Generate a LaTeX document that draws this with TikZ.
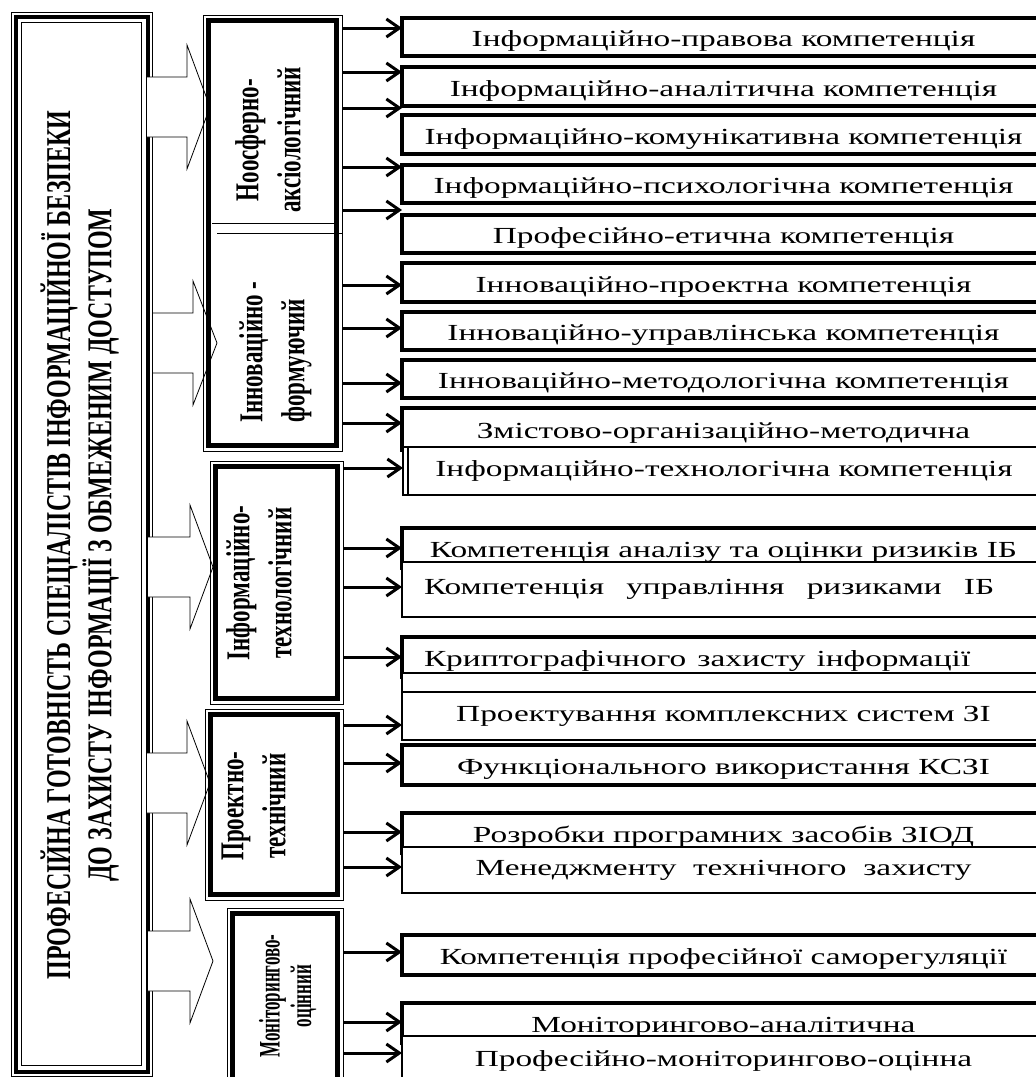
\documentclass[tikz,border=0pt]{standalone}
\usepackage{fontspec}
\setmainfont{Liberation Serif}
\usepackage{graphicx}
\usetikzlibrary{arrows.meta}
\def\hstr#1{\scalebox{1.45}[1]{#1}}
\def\vlab#1#2{\scalebox{1}[#1]{\begin{tabular}{@{}c@{}}#2\end{tabular}}}
\def\vlabl#1#2{\scalebox{1}[#1]{\begin{tabular}{@{}l@{}}#2\end{tabular}}}
\def\framein[#1](#2)(#3){\draw[#1] ([shift={(#3,#3)}]#2.north west) rectangle ([shift={(-#3,-#3)}]#2.south east);}
\def\fatarrow(#1:#2:#3:#4){\draw[fill=white, line width=0.8pt] (#1,#4-30) -- (#2,#4-30) -- (#2,#4-62) -- (#3,#4) -- (#2,#4+62) -- (#2,#4+30) -- (#1,#4+30);}
\tikzset{
  kbox/.style={draw, fill=white, anchor=north west, minimum width=643pt, inner sep=0pt, outer sep=0pt, font=\fontsize{23}{26}\selectfont},
  kthick/.style={kbox, line width=4.5pt, text height=21pt, text depth=2pt},
  kthin/.style={kbox, line width=1.3pt, text height=15pt, text depth=5pt},
  kleft/.style={align=left, text width=599pt, inner xsep=22pt},
  catbox/.style={draw, line width=0.9pt, anchor=north west, inner sep=0pt, outer sep=0pt},
  cattext/.style={rotate=90, inner sep=0pt, font=\fontsize{23}{29}\selectfont\bfseries},
  arr/.style={line width=3pt, -{Straight Barb[length=13pt,width=18pt]}},
}
\begin{document}
\begin{tikzpicture}[x=1pt, y=-1pt]
  \useasboundingbox (0,0) rectangle (1036,1077);
  \clip (0,0) rectangle (1036,1077);

  % main block
  \node[catbox, minimum width=141pt, minimum height=1064pt] (main) at (11,12) {};
  \framein[line width=4pt](main)(4.5)
  \framein[line width=0.9pt](main)(10.5)
  \node[rotate=90, inner sep=0pt, font=\fontsize{24}{28}\selectfont\bfseries] (title) at (82,545)
    {\vlab{1.45}{ПРОФЕСІЙНА ГОТОВНІСТЬ СПЕЦІАЛІСТІВ ІНФОРМАЦІЙНОЇ БЕЗПЕКИ\\ДО ЗАХИСТУ ІНФОРМАЦІЇ З ОБМЕЖЕНИМ ДОСТУПОМ}};

  % hollow arrows
  \fatarrow(147:187:210:107)
  \fatarrow(153:193:217:343)
  \fatarrow(148:190:213:567)
  \fatarrow(147:187:210:783)
  \fatarrow(148:190:213:961)

  % components
  \node[catbox, minimum width=139pt, minimum height=436pt] (fa) at (203,15) {};
  \node[catbox, minimum width=133pt, minimum height=243pt] (fb) at (210,461) {};
  \node[catbox, minimum width=138pt, minimum height=191pt] (fc) at (205,709) {};
  \node[catbox, minimum width=116pt, minimum height=177pt] (fd) at (227,908) {};
  \foreach \f in {fa,fb,fc,fd}
    \framein[line width=5pt](\f)(5.5)
  \draw[line width=0.9pt] (212,223) -- (335,223);
  \draw[line width=0.9pt] (217,233) -- (342,233);

  \node[cattext] (nf) at (271,140) {\vlab{1.45}{Ноосферно-\\аксіологічний}};
  \node[cattext] (inf) at (275,352) {\vlabl{1.45}{Інноваційно -\\формуючий}};
  \node[cattext] (itech) at (262,583) {\vlab{1.45}{Інформаційно-\\технологічний}};
  \node[cattext] (ptech) at (256,806) {\vlab{1.45}{Проектно-\\технічний}};
  \node[cattext, font=\fontsize{17}{18}\selectfont\bfseries] (mon) at (289,996) {\vlab{1.75}{Моніторингово-\\оцінний}};

  % competences
  \node[kthick, minimum height=38pt] (k1) at (402,18) {\hstr{Інформаційно-правова компетенція}};
  \node[kthick, minimum height=39pt] (k2) at (402,67) {\hstr{Інформаційно-аналітична компетенція}};
  \node[kthick, minimum height=39pt] (k3) at (402,115) {\hstr{Інформаційно-комунікативна компетенція}};
  \node[kthick, minimum height=38pt] (k4) at (402,165) {\hstr{Інформаційно-психологічна компетенція}};
  \node[kthick, minimum height=38pt] (k5) at (402,215) {\hstr{Професійно-етична компетенція}};
  \node[kthick, minimum height=39pt] (k6) at (402,263) {\hstr{Інноваційно-проектна компетенція}};
  \node[kthick, minimum height=38pt] (k7) at (402,312) {\hstr{Інноваційно-управлінська компетенція}};
  \node[kthick, minimum height=38pt] (k8) at (402,360) {\hstr{Інноваційно-методологічна компетенція}};
  \node[kthick, minimum height=42pt] (k9) at (402,408) {\hstr{Змістово-організаційно-методична}};
  \node[kthin, minimum height=48pt, minimum width=642pt] (k10) at (403,447) {\hstr{Інформаційно-технологічна компетенція}};
  \draw[line width=1.3pt] ([xshift=5pt]k10.north west) -- ([xshift=5pt]k10.south west);
  \node[kthick, minimum height=40pt] (k11) at (402,528) {\hstr{Компетенція аналізу та оцінки ризиків ІБ}};
  \node[kthin, kleft, minimum height=55pt] (k12) at (402,562) {\hstr{Компетенція\ \ управління\ \ ризиками\ \ ІБ}};
  \node[kthick, kleft, minimum height=40pt] (k13) at (402,637) {\hstr{Криптографічного захисту інформації}};
  \node[kthin, minimum height=19pt] (k13b) at (402,673) {};
  \node[kthin, minimum height=48pt] (k14) at (402,692) {\hstr{Проектування комплексних систем ЗІ}};
  \node[kthick, minimum height=40pt] (k15) at (402,745) {\hstr{Функціонального використання КСЗІ}};
  \node[kthick, minimum height=40pt] (k16) at (402,813) {\hstr{Розробки програмних засобів ЗІОД}};
  \node[kthin, minimum height=46pt] (k17) at (402,847) {\hstr{Менеджменту\ \ технічного\ \ захисту}};
  \node[kthick, minimum height=40pt] (k18) at (402,935) {\hstr{Компетенція професійної саморегуляції}};
  \node[kthick, minimum height=40pt] (k19) at (402,1003) {\hstr{Моніторингово-аналітична}};
  \node[kthin, minimum height=50pt] (k20) at (402,1036) {\hstr{Професійно-моніторингово-оцінна}};

  % links
  \foreach \src/\yy/\dst in {fa/28/k1, fa/72/k2, fa/108/k3, fa/167/k4, fa/210/k5,
      fa/285/k6, fa/328/k7, fa/383/k8, fa/423/k9, fb/468/k10, fb/548/k11,
      fb/587/k12, fb/657/k13, fc/725/k14, fc/763/k15, fc/832/k16, fc/867/k17,
      fd/952/k18, fd/1022/k19, fd/1053/k20}
    \draw[arr] (\src.east |- 0,\yy) -- (\dst.west |- 0,\yy);
\end{tikzpicture}
\end{document}
